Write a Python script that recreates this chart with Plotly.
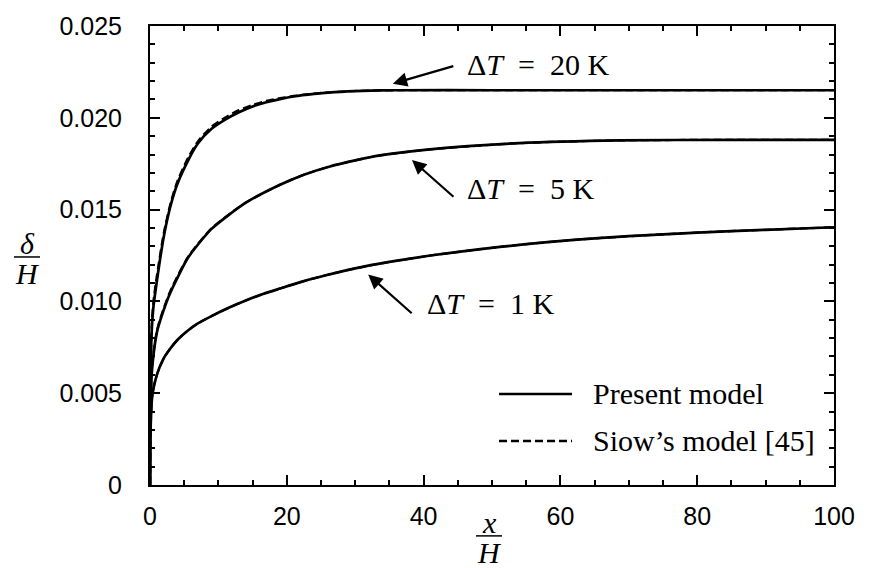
import plotly.graph_objects as go

# Boundary-layer thickness delta/H versus x/H for three temperature differences
x_20 = [0, 0.05, 0.24, 0.5, 1, 2, 3, 4, 5.6, 7, 9, 11, 13, 15, 17, 19, 21, 24, 27, 31,
        36, 50, 70, 100]
present_20 = [0, 0.0050, 0.0083, 0.0097, 0.0111, 0.0135, 0.0152, 0.0164, 0.0177, 0.0186,
              0.0194, 0.0199, 0.0203, 0.02062, 0.02085, 0.02102, 0.02116, 0.0213, 0.0214,
              0.02147, 0.0215, 0.0215, 0.0215, 0.0215]
siow_20 = [0, 0.0052, 0.0086, 0.0100, 0.0114, 0.0137, 0.01535, 0.01655, 0.01785, 0.01872,
           0.01952, 0.02002, 0.02042, 0.0207, 0.02092, 0.02107, 0.02119, 0.02132, 0.02141,
           0.02147, 0.0215, 0.0215, 0.0215, 0.0215]

x_5 = [0, 0.05, 0.3, 1, 1.7, 3, 5.6, 9, 13.9, 18.7, 22.5, 26.3, 30, 33.6, 40.9, 54, 68.7,
       85, 100]
present_5 = [0, 0.0038, 0.0063, 0.0083, 0.0092, 0.0105, 0.0124, 0.01395, 0.01535, 0.0163,
             0.0169, 0.01735, 0.01768, 0.01795, 0.01828, 0.01862, 0.01877, 0.0188, 0.0188]
siow_5 = [0, 0.0039, 0.0064, 0.0084, 0.0093, 0.0106, 0.01245, 0.01398, 0.01536, 0.0163,
          0.0169, 0.01735, 0.01768, 0.01795, 0.01828, 0.01862, 0.01877, 0.0188, 0.0188]

x_1 = [0, 0.05, 0.34, 1, 2, 3, 4, 5.5, 7, 9, 11.5, 14, 16.5, 19, 22, 26, 30, 35, 41, 48,
       55, 62, 70, 80, 90, 100]
present_1 = [0, 0.0026, 0.0049, 0.0060, 0.0069, 0.00745, 0.0079, 0.0084, 0.0088, 0.0092,
             0.00965, 0.01005, 0.0104, 0.0107, 0.01105, 0.01145, 0.0118, 0.01215, 0.0125,
             0.01283, 0.01312, 0.01335, 0.01355, 0.01375, 0.0139, 0.01404]
siow_1 = list(present_1)

curves = [
    (x_20, present_20, siow_20),
    (x_5, present_5, siow_5),
    (x_1, present_1, siow_1),
]

SP = "\u2002"  # en space, mimics math spacing around "="
# Labels: (text, arrow tip x, arrow tip y, tail offset px, text x, text y)
labels = [
    (f"Δ<i>T</i>{SP}={SP}20 K", 35.5, 0.02186, (62, -18), 46.0, 0.02292),
    (f"Δ<i>T</i>{SP}={SP}5 K", 38.3, 0.01770, (43, 38), 46.0, 0.01615),
    (f"Δ<i>T</i>{SP}={SP}1 K", 31.9, 0.01146, (45, 40), 40.2, 0.00986),
]

legend_names = ["Present model", "Siow’s model [45]"]

W, H = 872, 568
L, R, T, B = 150, 38, 16, 83
PW, PH = W - L - R, H - T - B


def paper(px, py):
    """Pixel position on the page -> paper coordinates."""
    return (px - L) / PW, (H - B - py) / PH


SERIF = "Liberation Serif"
SANS = "Liberation Sans"
TXT = 30

fig = go.Figure()
for xs, ys_present, ys_siow in curves:
    fig.add_trace(go.Scatter(x=xs, y=ys_present, mode="lines",
                             line=dict(color="black", width=2.7, shape="spline", smoothing=0.6),
                             showlegend=False, hoverinfo="skip"))
    fig.add_trace(go.Scatter(x=xs, y=ys_siow, mode="lines",
                             line=dict(color="black", width=2.2, dash="8px,4px",
                                       shape="spline", smoothing=0.6),
                             showlegend=False, hoverinfo="skip"))

annotations = []
for text, tx, ty, (ax, ay), lx, ly in labels:
    annotations.append(dict(x=tx, y=ty, xref="x", yref="y", ax=ax, ay=ay,
                            axref="pixel", ayref="pixel", text="", showarrow=True,
                            arrowhead=2, arrowsize=1.3, arrowwidth=2.2, arrowcolor="black"))
    annotations.append(dict(x=lx, y=ly, xref="x", yref="y", text=text, showarrow=False,
                            xanchor="left", yanchor="middle",
                            font=dict(family=SERIF, size=TXT, color="black")))

shapes = []
# hand-drawn legend
for i, (name, dash) in enumerate(zip(legend_names, ["solid", "8px,4px"])):
    py = 392 + 48 * i
    x0, y0 = paper(499, py)
    x1, _ = paper(572, py)
    shapes.append(dict(type="line", xref="paper", yref="paper", x0=x0, x1=x1, y0=y0, y1=y0,
                       line=dict(color="black", width=2.6, dash=dash)))
    tx, ty = paper(591, py)
    annotations.append(dict(x=tx, y=ty, xref="paper", yref="paper", text=name,
                            showarrow=False, xanchor="left", yanchor="middle",
                            font=dict(family=SERIF, size=TXT, color="black")))


# axis titles as stacked fractions; compact boxes keep numerator and denominator apart
def fraction(cx, num_y, bar_y, den_y, half, num, den):
    for txt, ty in ((num, num_y), (den, den_y)):
        ax_, ay_ = paper(cx, ty)
        annotations.append(dict(x=ax_, y=ay_, xref="paper", yref="paper", text=txt,
                                showarrow=False, xanchor="center", yanchor="middle",
                                height=22, valign="middle",
                                font=dict(family=SERIF, size=TXT, color="black")))
    bx0, by = paper(cx - half, bar_y)
    bx1, _ = paper(cx + half, bar_y)
    shapes.append(dict(type="line", xref="paper", yref="paper", x0=bx0, x1=bx1, y0=by, y1=by,
                       line=dict(color="black", width=1.5)))


fraction(489, 523, 537, 553, 13, "<i>x</i>", "<i>H</i>")
fraction(27, 238, 252, 268, 13, "<i>δ</i>", "<i>H</i>")

axis_common = dict(showgrid=False, zeroline=False, showline=True, linecolor="black",
                   linewidth=2, mirror="allticks", ticks="inside", ticklen=10,
                   tickwidth=1.6, tickcolor="black",
                   tickfont=dict(family=SANS, size=25, color="black"))

fig.update_xaxes(range=[0, 100], tickmode="array", tickvals=[0, 20, 40, 60, 80, 100],
                 ticktext=["0", "20", "40", "60", "80", "100"],
                 minor=dict(dtick=5, ticks="inside", ticklen=5, tickwidth=1.6,
                            tickcolor="black", showgrid=False),
                 ticklabelstandoff=8, **axis_common)
fig.update_yaxes(range=[0, 0.025], tickmode="array",
                 tickvals=[0, 0.005, 0.010, 0.015, 0.020, 0.025],
                 ticktext=["0", "0.005", "0.010", "0.015", "0.020", "0.025"],
                 minor=dict(dtick=0.001, ticks="inside", ticklen=5, tickwidth=1.6,
                            tickcolor="black", showgrid=False),
                 ticklabelstandoff=21, **axis_common)

fig.update_layout(width=W, height=H, margin=dict(l=L, r=R, t=T, b=B),
                  plot_bgcolor="white", paper_bgcolor="white",
                  showlegend=False, annotations=annotations, shapes=shapes)

fig.write_html("out.html")
